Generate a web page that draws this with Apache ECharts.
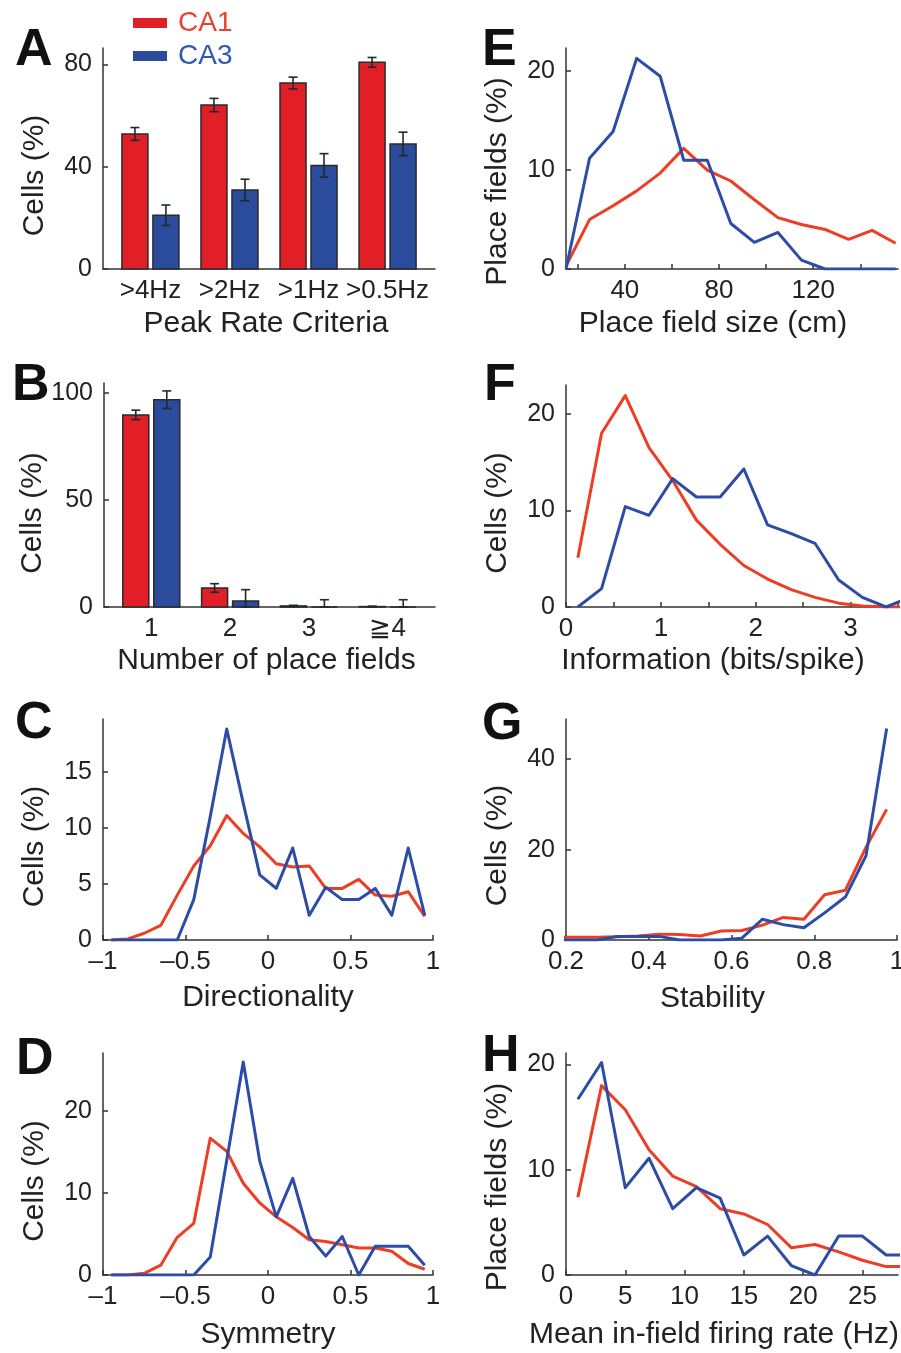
<!DOCTYPE html>
<html>
<head>
<meta charset="utf-8">
<title>CA1 / CA3 place cell properties</title>
<script src="https://cdn.jsdelivr.net/npm/echarts@6/dist/echarts.min.js"></script>
<style>
    html, body { margin: 0; padding: 0; background: #fff; }
    #main { width: 901px; height: 1353px; }
</style>
</head>
<body>
<div id="main"></div>
<script>
var FONT = '"Liberation Sans", Arial, Helvetica, sans-serif';
var RED_BAR = '#e21f26', BLUE_BAR = '#2b4b9c';
var RED_LINE = '#ee3d25', BLUE_LINE = '#2c4ca6';
var AXIS_COLOR = '#333';

// A - peak rate criteria (bars + s.e.m.)
var peakCriteria = ['>4Hz', '>2Hz', '>1Hz', '>0.5Hz'];
var ca1Peak = [52.8, 64.1, 72.7, 80.8];
var ca1PeakErr = [2.5, 2.6, 2.3, 1.9];
var ca3Peak = [21.0, 30.9, 40.5, 48.9];
var ca3PeakErr = [4.0, 4.2, 4.6, 4.6];

// B - number of place fields
var fieldCounts = ['1', '2', '3', '≧4'];
var ca1Fields = [89.8, 8.9, 0.5, 0.2];
var ca1FieldsErr = [2.2, 2.0, 0.3, 0.2];
var ca3Fields = [96.9, 2.8, 0, 0];
var ca3FieldsErr = [4.1, 5.3, 3.4, 3.4];

// C - directionality
var dirBins = [-0.95, -0.85, -0.75, -0.65, -0.55, -0.45, -0.35, -0.25, -0.15, -0.05,
    0.05, 0.15, 0.25, 0.35, 0.45, 0.55, 0.65, 0.75, 0.85, 0.95];
var ca1Dir = [0, 0.1, 0.6, 1.3, 4.0, 6.6, 8.4, 11.1, 9.5, 8.3, 6.8, 6.5, 6.6, 4.6, 4.6, 5.4, 4.0, 3.9, 4.3, 2.1];
var ca3Dir = [0, 0, 0, 0, 0, 3.6, 11.0, 18.8, 12.2, 5.8, 4.6, 8.2, 2.2, 4.7, 3.6, 3.6, 4.6, 2.2, 8.2, 2.2];

// D - symmetry
var symBins = [-0.95, -0.85, -0.75, -0.65, -0.55, -0.45, -0.35, -0.25, -0.15, -0.05,
    0.05, 0.15, 0.25, 0.35, 0.45, 0.55, 0.65, 0.75, 0.85, 0.95];
var ca1Sym = [0, 0, 0.2, 1.2, 4.6, 6.3, 16.7, 15.1, 11.2, 8.8, 7.1, 5.8, 4.3, 4.1, 3.7, 3.3, 3.3, 2.9, 1.4, 0.7];
var ca3Sym = [0, 0, 0, 0, 0, 0, 2.2, 14.0, 26.0, 13.9, 7.1, 11.8, 4.7, 2.3, 4.7, 0, 3.5, 3.5, 3.5, 1.2];

// E - place field size (cm)
var sizeBins = [15, 25, 35, 45, 55, 65, 75, 85, 95, 105, 115, 125, 135, 145, 155];
var ca1Size = [0.3, 5.0, 6.4, 7.9, 9.7, 12.2, 10.0, 8.9, 7.0, 5.2, 4.5, 4.0, 3.0, 3.9, 2.6];
var ca3Size = [0, 11.2, 13.9, 21.3, 19.5, 11.0, 11.0, 4.6, 2.7, 3.7, 0.9, 0, 0, 0, 0];

// F - information (bits/spike)
var infoBins = [0.125, 0.375, 0.625, 0.875, 1.125, 1.375, 1.625, 1.875, 2.125, 2.375, 2.625, 2.875, 3.125, 3.375, 3.625];
var ca1Info = [5.1, 18.0, 21.9, 16.5, 13.1, 9.0, 6.5, 4.3, 2.9, 1.8, 1.0, 0.4, 0.1, 0, 0];
var ca3Info = [0, 1.9, 10.4, 9.5, 13.3, 11.4, 11.4, 14.3, 8.5, 7.6, 6.6, 2.8, 1.0, 0, 1.0];

// G - stability
var stabBins = [0.175, 0.225, 0.275, 0.325, 0.375, 0.425, 0.475, 0.525, 0.575, 0.625,
    0.675, 0.725, 0.775, 0.825, 0.875, 0.925, 0.975];
var ca1Stab = [0.6, 0.6, 0.6, 0.7, 0.9, 1.3, 1.2, 0.9, 2.0, 2.1, 3.3, 5.0, 4.6, 10.0, 11.0, 20.5, 28.9];
var ca3Stab = [0, 0, 0, 0.8, 0.8, 0.8, 0, 0, 0, 0.4, 4.6, 3.4, 2.7, 6.0, 9.5, 18.6, 46.8];

// H - mean in-field firing rate (Hz)
var rateBins = [1, 3, 5, 7, 9, 11, 13, 15, 17, 19, 21, 23, 25, 27, 29];
var ca1Rate = [7.4, 18.0, 15.7, 11.9, 9.4, 8.4, 6.3, 5.8, 4.8, 2.6, 2.9, 2.2, 1.4, 0.8, 0.8];
var ca3Rate = [16.7, 20.2, 8.3, 11.1, 6.3, 8.3, 7.3, 1.9, 3.7, 0.9, 0, 3.7, 3.7, 1.9, 1.9];

// panel layout (pixels); yShift pushes the y title down, xShift pulls the x title left
var panels = [
    { letter: 'A', lx: 15,  ly: 51,   yShift: 17, xShift: 3,  grid: { left: 103, top: 48,   width: 332, height: 221 } },
    { letter: 'B', lx: 12,  ly: 386,  yShift: 18, xShift: 3,  grid: { left: 104, top: 383,  width: 331, height: 224 } },
    { letter: 'C', lx: 15,  ly: 724,  yShift: 17, xShift: 0,  grid: { left: 103, top: 719,  width: 330, height: 221 } },
    { letter: 'D', lx: 16,  ly: 1060, yShift: 17, xShift: 0,  grid: { left: 103, top: 1053, width: 330, height: 222 } },
    { letter: 'E', lx: 482, ly: 51,   yShift: 23, xShift: 19, grid: { left: 566, top: 48,   width: 332, height: 221 } },
    { letter: 'F', lx: 484, ly: 386,  yShift: 17, xShift: 19, grid: { left: 566, top: 385,  width: 332, height: 222 } },
    { letter: 'G', lx: 482, ly: 725,  yShift: 16, xShift: 19, grid: { left: 566, top: 719,  width: 331, height: 221 } },
    { letter: 'H', lx: 482, ly: 1057, yShift: 23, xShift: 18, grid: { left: 566, top: 1053, width: 332, height: 222 } }
];

function pairs(xs, ys) {
    return xs.map(function(x, i) { return [x, ys[i]]; });
}

function barData(values, errs) {
    return values.map(function(v, i) { return [i + 1, v, errs[i]]; });
}

function fmtNum(v) {
    var s = String(Math.round(v * 100) / 100);
    return s.replace('-', '\u2013');
}

function xAxis(idx, min, max, labels, ticks, name, nameGap, formatter) {
    var shift = panels[idx].xShift;
    return {
        type: 'value', gridIndex: idx, min: min, max: max,
        name: name, nameLocation: 'middle', nameGap: nameGap,
        nameTextStyle: { fontSize: 30, color: '#222', fontFamily: FONT, padding: [0, shift * 2, 0, 0] },
        axisLine: { show: true, onZero: false, lineStyle: { color: AXIS_COLOR, width: 1.5 } },
        axisTick: { show: !!ticks, inside: true, length: 5, customValues: ticks || [], lineStyle: { color: AXIS_COLOR, width: 1.5 } },
        axisLabel: { customValues: labels, fontSize: 26, color: '#222', margin: 9, fontFamily: FONT, formatter: formatter || fmtNum },
        splitLine: { show: false }
    };
}

function yAxis(idx, max, ticks, name) {
    var shift = panels[idx].yShift;
    return {
        type: 'value', gridIndex: idx, min: 0, max: max,
        name: name, nameLocation: 'middle', nameGap: 53,
        nameTextStyle: { fontSize: 30, color: '#222', fontFamily: FONT, padding: [0, shift * 2, 0, 0] },
        axisLine: { show: true, onZero: false, lineStyle: { color: AXIS_COLOR, width: 1.5 } },
        axisTick: { show: true, inside: true, length: 5, customValues: ticks, lineStyle: { color: AXIS_COLOR, width: 1.5 } },
        axisLabel: { customValues: ticks, fontSize: 25, color: '#222', margin: 11, fontFamily: FONT, formatter: fmtNum },
        splitLine: { show: false }
    };
}

// bar + error bar, drawn with the axis scales
function barRender(offset, color) {
    return function(params, api) {
        var x = api.value(0), y = api.value(1), e = api.value(2);
        var base = api.coord([x, 0]);
        var top = api.coord([x, y]);
        var cx = base[0] + offset;
        var hi = api.coord([x, y + e])[1];
        var lo = api.coord([x, Math.max(y - e, 0)])[1];
        var errStyle = { stroke: '#1d2b2b', lineWidth: 1.6 };
        return {
            type: 'group',
            children: [{
                type: 'rect',
                shape: { x: cx - 13, y: top[1], width: 26, height: base[1] - top[1] },
                style: { fill: color, stroke: '#2a2a2a', lineWidth: 1.5 }
            }, {
                type: 'line', shape: { x1: cx, y1: hi, x2: cx, y2: lo }, style: errStyle
            }, {
                type: 'line', shape: { x1: cx - 4.5, y1: hi, x2: cx + 4.5, y2: hi }, style: errStyle
            }, {
                type: 'line', shape: { x1: cx - 4.5, y1: lo, x2: cx + 4.5, y2: lo }, style: errStyle
            }]
        };
    };
}

function barSeries(name, idx, values, errs, offset, color) {
    return {
        type: 'custom', name: name, xAxisIndex: idx, yAxisIndex: idx,
        itemStyle: { color: color },
        renderItem: barRender(offset, color),
        encode: { x: 0, y: 1 },
        data: barData(values, errs)
    };
}

function lineSeries(name, idx, xs, ys, color) {
    return {
        type: 'line', name: name, xAxisIndex: idx, yAxisIndex: idx,
        data: pairs(xs, ys), symbol: 'none', clip: true,
        lineStyle: { color: color, width: 3, join: 'round' },
        itemStyle: { color: color }
    };
}

var chart = echarts.init(document.getElementById('main'), null, { renderer: 'canvas' });

var option = {
    animation: false,
    backgroundColor: '#ffffff',
    textStyle: { fontFamily: FONT },
    grid: panels.map(function(p) {
        return Object.assign({ outerBoundsMode: 'none', containLabel: false }, p.grid);
    }),
    legend: {
        orient: 'vertical', left: 128, top: 4, itemWidth: 34, itemHeight: 10, itemGap: 5,
        icon: 'rect', selectedMode: false,
        textStyle: { fontSize: 28, lineHeight: 28, fontFamily: FONT, padding: [0, 0, 0, 6] },
        data: [
            { name: 'CA1', itemStyle: { color: RED_BAR }, textStyle: { color: '#e8432e' } },
            { name: 'CA3', itemStyle: { color: BLUE_BAR }, textStyle: { color: '#3158b0' } }
        ]
    },
    graphic: panels.map(function(p) {
        return {
            type: 'text', x: p.lx, y: p.ly,
            style: { text: p.letter, font: 'bold 52px ' + FONT, fill: '#111', verticalAlign: 'middle', align: 'left' }
        };
    }),
    xAxis: [
        xAxis(0, 0.4, 4.6, [1, 2, 3, 4], null, 'Peak Rate Criteria', 40, function(v) { return peakCriteria[v - 1]; }),
        xAxis(1, 0.4, 4.6, [1, 2, 3, 4], null, 'Number of place fields', 39, function(v) { return fieldCounts[v - 1]; }),
        xAxis(2, -1, 1, [-1, -0.5, 0, 0.5, 1], [-1, -0.5, 0, 0.5, 1], 'Directionality', 43),
        xAxis(3, -1, 1, [-1, -0.5, 0, 0.5, 1], [-1, -0.5, 0, 0.5, 1], 'Symmetry', 45),
        xAxis(4, 15, 156, [40, 80, 120], [20, 40, 60, 80, 100, 120, 140], 'Place field size (cm)', 40),
        xAxis(5, 0, 3.5, [0, 1, 2, 3], [0, 0.5, 1, 1.5, 2, 2.5, 3, 3.5], 'Information (bits/spike)', 39),
        xAxis(6, 0.2, 1, [0.2, 0.4, 0.6, 0.8, 1], [0.2, 0.4, 0.6, 0.8, 1], 'Stability', 44),
        xAxis(7, 0, 28, [0, 5, 10, 15, 20, 25], [0, 5, 10, 15, 20, 25], 'Mean in-field firing rate (Hz)', 45)
    ],
    yAxis: [
        yAxis(0, 86.4, [0, 40, 80], 'Cells (%)'),
        yAxis(1, 104.7, [0, 50, 100], 'Cells (%)'),
        yAxis(2, 19.7, [0, 5, 10, 15], 'Cells (%)'),
        yAxis(3, 27.1, [0, 10, 20], 'Cells (%)'),
        yAxis(4, 22.35, [0, 10, 20], 'Place fields (%)'),
        yAxis(5, 23, [0, 10, 20], 'Cells (%)'),
        yAxis(6, 48.9, [0, 20, 40], 'Cells (%)'),
        yAxis(7, 21.1, [0, 10, 20], 'Place fields (%)')
    ],
    series: [
        barSeries('CA1', 0, ca1Peak, ca1PeakErr, -15.5, RED_BAR),
        barSeries('CA3', 0, ca3Peak, ca3PeakErr, 15.5, BLUE_BAR),
        barSeries('CA1', 1, ca1Fields, ca1FieldsErr, -15.5, RED_BAR),
        barSeries('CA3', 1, ca3Fields, ca3FieldsErr, 15.5, BLUE_BAR),
        lineSeries('CA1', 2, dirBins, ca1Dir, RED_LINE),
        lineSeries('CA3', 2, dirBins, ca3Dir, BLUE_LINE),
        lineSeries('CA1', 3, symBins, ca1Sym, RED_LINE),
        lineSeries('CA3', 3, symBins, ca3Sym, BLUE_LINE),
        lineSeries('CA1', 4, sizeBins, ca1Size, RED_LINE),
        lineSeries('CA3', 4, sizeBins, ca3Size, BLUE_LINE),
        lineSeries('CA1', 5, infoBins, ca1Info, RED_LINE),
        lineSeries('CA3', 5, infoBins, ca3Info, BLUE_LINE),
        lineSeries('CA1', 6, stabBins, ca1Stab, RED_LINE),
        lineSeries('CA3', 6, stabBins, ca3Stab, BLUE_LINE),
        lineSeries('CA1', 7, rateBins, ca1Rate, RED_LINE),
        lineSeries('CA3', 7, rateBins, ca3Rate, BLUE_LINE)
    ]
};

chart.setOption(option);
</script>
</body>
</html>
